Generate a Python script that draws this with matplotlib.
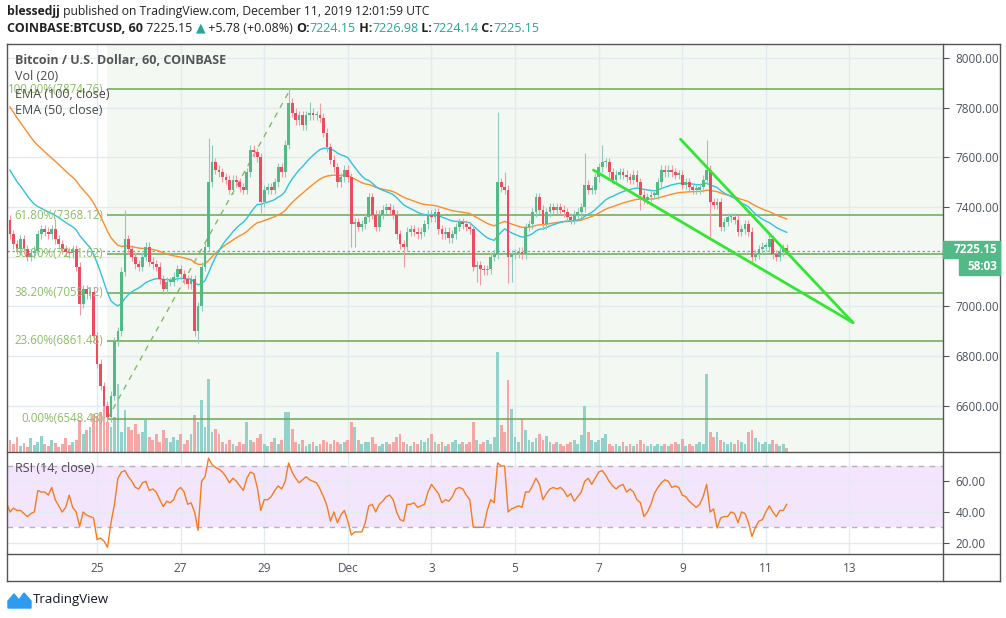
import matplotlib
matplotlib.use("Agg")
import matplotlib.pyplot as plt
import numpy as np
import pandas as pd
from matplotlib.patches import Rectangle, Polygon
from matplotlib.lines import Line2D

plt.rcParams['font.family'] = ['Open Sans', 'DejaVu Sans']

W, H = 1006, 618

# 2-hour candles, hours counted from Nov 25 00:00 UTC
start_hour = -50
step = 2
first_open = 7350
closes = [
    7290, 7250, 7230, 7270, 7230, 7200, 7215, 7225, 7290, 7310,
    7300, 7290, 7310, 7270, 7250, 7230, 7220, 7215, 7230, 7160,
    7010, 7070, 7050, 7060, 6880, 6770, 6680, 6600, 6555, 6640,
    6860, 6900, 7140, 7270, 7230, 7200, 7170, 7160, 7200, 7240,
    7180, 7170, 7160, 7110, 7070, 7100, 7100, 7120, 7150, 7130,
    7110, 7090, 7110, 6900, 7000, 7160, 7240, 7500, 7580, 7550,
    7540, 7520, 7510, 7470, 7510, 7500, 7480, 7470, 7540, 7630,
    7620, 7600, 7420, 7470, 7480, 7470, 7500, 7560, 7540, 7650,
    7820, 7780, 7750, 7770, 7730, 7770, 7780, 7770, 7770, 7760,
    7700, 7640, 7590, 7560, 7500, 7520, 7550, 7520, 7330, 7340,
    7320, 7330, 7360, 7440, 7370, 7320, 7370, 7390, 7400, 7390,
    7370, 7290, 7250, 7240, 7300, 7310, 7300, 7290, 7300, 7330,
    7370, 7360, 7380, 7310, 7290, 7300, 7275, 7290, 7320, 7340,
    7330, 7320, 7310, 7160, 7165, 7150, 7145, 7150, 7200, 7210,
    7500, 7480, 7470, 7200, 7210, 7215, 7220, 7210, 7320, 7330,
    7380, 7440, 7390, 7330, 7380, 7400, 7390, 7400, 7390, 7380,
    7360, 7350, 7370, 7380, 7400, 7490, 7470, 7470, 7520, 7560,
    7580, 7580, 7540, 7510, 7530, 7540, 7530, 7520, 7510, 7530,
    7500, 7450, 7430, 7440, 7450, 7450, 7500, 7550, 7540, 7550,
    7540, 7530, 7530, 7490, 7500, 7480, 7470, 7470, 7480, 7510,
    7550, 7420, 7410, 7420, 7320, 7340, 7360, 7360, 7350, 7300,
    7310, 7330, 7300, 7200, 7210, 7230, 7240, 7240, 7270, 7210,
    7200, 7220, 7235, 7225.15,
]
wick_default = 18
spike_highs = {13: 7350, 33: 7390, 57: 7680, 58: 7650, 80: 7875, 86: 7823,
               89: 7820, 140: 7783, 142: 7541, 165: 7617, 170: 7650, 200: 7670}
spike_lows = {20: 6966, 27: 6570, 28: 6548, 53: 6880, 54: 6855, 72: 7376,
              98: 7240, 99: 7240, 113: 7160, 134: 7100, 135: 7087, 143: 7095,
              144: 7100, 181: 7388, 201: 7268, 213: 7170}
volume = [
    12, 8, 15, 6, 9, 5, 14, 7, 10, 16,
    8, 6, 12, 9, 5, 8, 14, 7, 10, 12,
    32, 18, 22, 25, 38, 36, 40, 47, 30, 25,
    35, 68, 20, 42, 25, 22, 28, 18, 20, 32,
    15, 12, 18, 10, 22, 14, 10, 15, 12, 18,
    8, 12, 18, 37, 30, 52, 25, 73, 20, 23,
    18, 10, 8, 12, 8, 6, 10, 8, 30, 12,
    10, 14, 18, 8, 6, 10, 14, 8, 12, 40,
    40, 23, 10, 8, 12, 6, 8, 10, 6, 8,
    12, 10, 8, 12, 10, 8, 10, 12, 30, 25,
    12, 8, 10, 10, 15, 8, 6, 8, 10, 8,
    10, 15, 18, 10, 8, 6, 10, 8, 12, 10,
    14, 18, 10, 8, 10, 6, 8, 10, 12, 8,
    10, 8, 10, 30, 12, 8, 10, 12, 8, 15,
    100, 27, 20, 72, 43, 15, 10, 33, 22, 12,
    10, 14, 18, 12, 16, 10, 8, 10, 8, 6,
    8, 10, 12, 8, 17, 46, 20, 12, 10, 12,
    14, 18, 8, 6, 8, 6, 10, 6, 8, 6,
    8, 12, 8, 6, 8, 6, 8, 6, 8, 6,
    8, 10, 8, 13, 6, 8, 6, 8, 10, 8,
    78, 20, 15, 20, 12, 10, 8, 10, 8, 12,
    10, 8, 20, 22, 14, 10, 8, 10, 8, 12,
    8, 6, 8, 4,
]
vol_scale = 408  # volume units spanning the full panel height

# RSI(14) sampled every 2 hours
rsi_start = -52
rsi_step = 2
rsi = [
    46,
    40, 42.5, 41, 41, 39, 37, 39, 40, 54, 53,
    53, 51, 56, 48, 44, 40, 43, 51, 43, 40,
    30.5, 40, 38, 37, 36, 22, 23, 21, 17, 33,
    45, 62, 66, 67, 63, 60, 56, 55, 59, 60,
    54, 55, 53, 48, 43.5, 47, 46, 48, 54, 56,
    53, 45, 46, 40, 28, 60, 63, 75, 71, 69,
    68, 66, 63, 59, 62, 60, 57, 54, 62, 66,
    65, 56, 41, 48, 48, 50, 54, 57, 55, 60,
    72, 66, 62, 59, 61, 63, 61, 60, 59, 55,
    50, 44, 34, 40, 33, 38, 41, 34, 25, 27,
    27, 27, 33, 44, 45, 40, 45, 47, 50, 51,
    48, 40, 35, 34, 45, 45, 46, 43, 44, 45,
    53, 58, 55, 52, 46, 48, 47, 50, 55, 56,
    55, 51, 48, 30, 30, 30, 30, 41, 48, 46,
    72, 70, 70, 40, 42, 43, 44, 43, 53, 53,
    57, 62, 58, 48, 52, 55, 56, 55, 56, 54,
    50, 52, 47, 50, 53, 60, 62, 58, 62, 66,
    67, 64, 60, 57, 55, 57, 58, 53, 55, 53,
    48, 46, 37, 40, 45, 52, 56, 59, 61, 60,
    56, 57, 56, 51, 50, 47, 45, 43, 45, 50,
    58, 40, 42, 29.5, 36, 37, 37, 40, 39, 33,
    40, 39, 33, 24, 30, 34, 35, 40, 44, 40,
    37, 41, 41, 45,
]

ema50_seed = 7570
ema100_seed = 7824

fib_low, fib_high = 6548.48, 7874.76
fib_levels = [0.0, 0.236, 0.382, 0.5, 0.618, 1.0]
fib_start, fib_end = 6, 111

trend_upper_h = [335, 434]
trend_upper_p = [7673, 6935]
trend_lower_h = [285, 434]
trend_lower_p = [7549, 6935]

date_hours = [0, 48, 96, 144, 192, 240, 288, 336, 384, 432]
date_labels = ['25', '27', '29', 'Dec', '3', '5', '7', '9', '11', '13']
price_ticks = [6600, 6800, 7000, 7200, 7400, 7600, 7800, 8000]
rsi_ticks = [20, 40, 60]
last_price = 7225.15

UP, DN = '#53b987', '#eb4d5c'
TEAL = '#26a69a'
TXT = '#4c525e'
GRID = '#e2ebf0'


def rect(x0, y0, x1, y1):
    return [x0 / W, 1 - y1 / H, (x1 - x0) / W, (y1 - y0) / H]


fig = plt.figure(figsize=(W / 100, H / 100), dpi=100)
fig.patch.set_facecolor('white')

ax = fig.add_axes(rect(7, 44, 943, 452))
axr = fig.add_axes(rect(7, 452, 943, 554), sharex=ax)

xmin, xmax = -51.7, 485.7
ax.set_xlim(xmin, xmax)
ax.set_ylim(6414.5, 8056.3)
axr.set_ylim(12.6, 79.1)

hours = start_hour + step * np.arange(len(closes))
c = np.array(closes, dtype=float)
o = np.concatenate([[first_open], c[:-1]])
hi = np.maximum(o, c) + wick_default
lo = np.minimum(o, c) - wick_default
for k, v in spike_highs.items():
    hi[k] = max(hi[k], v)
for k, v in spike_lows.items():
    lo[k] = min(lo[k], v)
up = c >= o

# background, grid
ax.axvspan(fib_start, xmax, color='#f4f8f2', zorder=0, lw=0)
for a in (ax, axr):
    a.set_xticks(date_hours)
    a.grid(True, color=GRID, lw=1)
    a.set_axisbelow(True)
    for s in a.spines.values():
        s.set_visible(False)
ax.set_yticks(price_ticks)
axr.set_yticks(rsi_ticks)
ax.tick_params(axis='x', length=0, labelbottom=False)
axr.tick_params(axis='x', length=0, labelbottom=False)
for a in (ax, axr):
    a.yaxis.tick_right()
    a.tick_params(axis='y', length=4, width=0.8, pad=5, labelsize=8.5,
                  colors=TXT, labelcolor=TXT)
axr.yaxis.set_major_formatter(matplotlib.ticker.FormatStrFormatter('%.2f'))
# the 7200 label sits under the last-price tag, as in the original
ax.yaxis.set_major_formatter(matplotlib.ticker.FuncFormatter(
    lambda v, pos: '' if abs(v - 7200) < 1 else f"{v:.2f}"))

# volume
vol_colors = np.where(up, '#93d2ca', '#f5a7a6')
ax.bar(hours, np.array(volume) / vol_scale, 1.6, bottom=0, color=vol_colors,
       transform=ax.get_xaxis_transform(), zorder=1, lw=0)

# fibonacci retracement
fib_prices = [fib_low + lv * (fib_high - fib_low) for lv in fib_levels]
ax.hlines(fib_prices, fib_start, xmax, colors='#6aa84f', lw=1.1, zorder=2)
ax.plot([fib_start, fib_end], [fib_low, fib_high], color='#7fbb62', lw=1,
        ls=(0, (4, 4)), zorder=2)
for lv, p in zip(fib_levels, fib_prices):
    ax.text(fib_start - 2.5, p, f"{lv * 100:.2f}%({p:.2f})", ha='right', va='center',
            fontsize=8.3, color='#8cbd66', zorder=6)

# EMAs
ema50 = pd.Series([ema50_seed] + closes).ewm(span=25, adjust=False).mean().values[1:]
ema100 = pd.Series([ema100_seed] + closes).ewm(span=50, adjust=False).mean().values[1:]
ax.plot(hours, ema100, color='#ff8c2a', lw=1, zorder=3)
ax.plot(hours, ema50, color='#2ec4dc', lw=1, zorder=3)

# candles
ax.vlines(hours, lo, hi, colors=np.where(up, '#8fc9bf', '#f19aa3'), lw=0.8, zorder=3.5)
body_h = np.maximum(np.abs(c - o), 6)
ax.bar(hours, body_h, 1.6, bottom=np.minimum(o, c), color=np.where(up, UP, DN),
       zorder=4, lw=0)

ax.axhline(last_price, color=UP, lw=0.9, ls=(0, (2, 2)), zorder=2.5)

# trend lines
ax.plot(trend_upper_h, trend_upper_p, color='#33e633', lw=2, zorder=5,
        solid_capstyle='round')
ax.plot(trend_lower_h, trend_lower_p, color='#33e633', lw=2, zorder=5,
        solid_capstyle='round')

# legend texts
ax.text(8 / 936, 1 - 17 / 408, 'Bitcoin / U.S. Dollar, 60, COINBASE', transform=ax.transAxes,
        fontsize=9, fontweight='bold', color='#555555', va='center', zorder=7)
for k, s in enumerate(['Vol (20)', 'EMA (100, close)', 'EMA (50, close)']):
    ax.text(8 / 936, 1 - (33 + 17 * k) / 408, s, transform=ax.transAxes,
            fontsize=9, color='#4a4a4a', va='center', zorder=7)

# RSI panel
rsi_h = rsi_start + rsi_step * np.arange(len(rsi))
axr.axhspan(30, 70, color='#f3e6fc', lw=0, zorder=0)
for lvl in (30, 70):
    axr.axhline(lvl, color='#b9aebf', lw=1, ls=(0, (4, 4)), zorder=1)
axr.plot(rsi_h, rsi, color='#f57c1f', lw=1, zorder=3)
axr.text(8 / 936, 1 - 17 / 102, 'RSI (14, close)', transform=axr.transAxes,
         fontsize=9, color='#4a4a4a', va='center')
for h, s in zip(date_hours, date_labels):
    axr.text(h, -15 / 102, s, transform=axr.get_xaxis_transform(), ha='center',
             va='center', fontsize=8.5, color=TXT)


def fline(x0, y0, x1, y1, **kw):
    fig.add_artist(Line2D([x0 / W, x1 / W], [1 - y0 / H, 1 - y1 / H],
                          transform=fig.transFigure, color='#555555', lw=1, **kw))


fline(7, 44, 1000, 44)
fline(7, 581, 1000, 581)
fline(7, 44, 7, 581)
fline(1000, 44, 1000, 581)
fline(943, 44, 943, 581)
fline(7, 452, 1000, 452)
fline(7, 554, 1000, 554)

# last price tags
for (x0, y0, x1, y1), s in [((943, 241, 1000, 258), f"{last_price:.2f}"),
                           ((959, 258, 1000, 275), '58:03')]:
    fig.add_artist(Rectangle((x0 / W, 1 - y1 / H), (x1 - x0) / W, (y1 - y0) / H,
                             transform=fig.transFigure, color=UP, zorder=10))
    fig.text((x1 - 3) / W, 1 - (y0 + y1) / 2 / H, s, ha='right', va='center',
             color='white', fontsize=8.5, fontweight='bold', zorder=11)

# header
renderer = fig.canvas.get_renderer()


def seq(x, y, parts, size=9):
    for s, col, bold in parts:
        t = fig.text(x / W, 1 - y / H, s, color=col, fontsize=size,
                     fontweight='bold' if bold else 'normal', va='center', ha='left')
        x += t.get_window_extent(renderer=renderer).width


DARK = '#222222'
seq(7, 12, [('blessedjj', DARK, True),
            (' published on TradingView.com, December 11, 2019 12:01:59 UTC', DARK, False)],
    size=8.75)
seq(7, 28, [('COINBASE:BTCUSD, 60', DARK, True), (' 7225.15 ', DARK, False),
            ('\u25b2', TEAL, False), (' +5.78 (+0.08%) ', DARK, False),
            ('O:', DARK, True), ('7224.15', TEAL, False),
            (' H:', DARK, True), ('7226.98', TEAL, False),
            (' L:', DARK, True), ('7224.14', TEAL, False),
            (' C:', DARK, True), ('7225.15', TEAL, False)])

# footer logo
logo = [(8, 608), (8, 601), (14, 594), (19, 600), (24, 593), (31, 601), (31, 608)]
fig.add_artist(Polygon([(px / W, 1 - py / H) for px, py in logo], closed=True,
                       transform=fig.transFigure, color='#2d9cf0'))
fig.text(33 / W, 1 - 600 / H, 'TradingView', fontsize=9.5, color='#131722',
         va='center', ha='left')

fig.savefig('out.png', dpi=100)
